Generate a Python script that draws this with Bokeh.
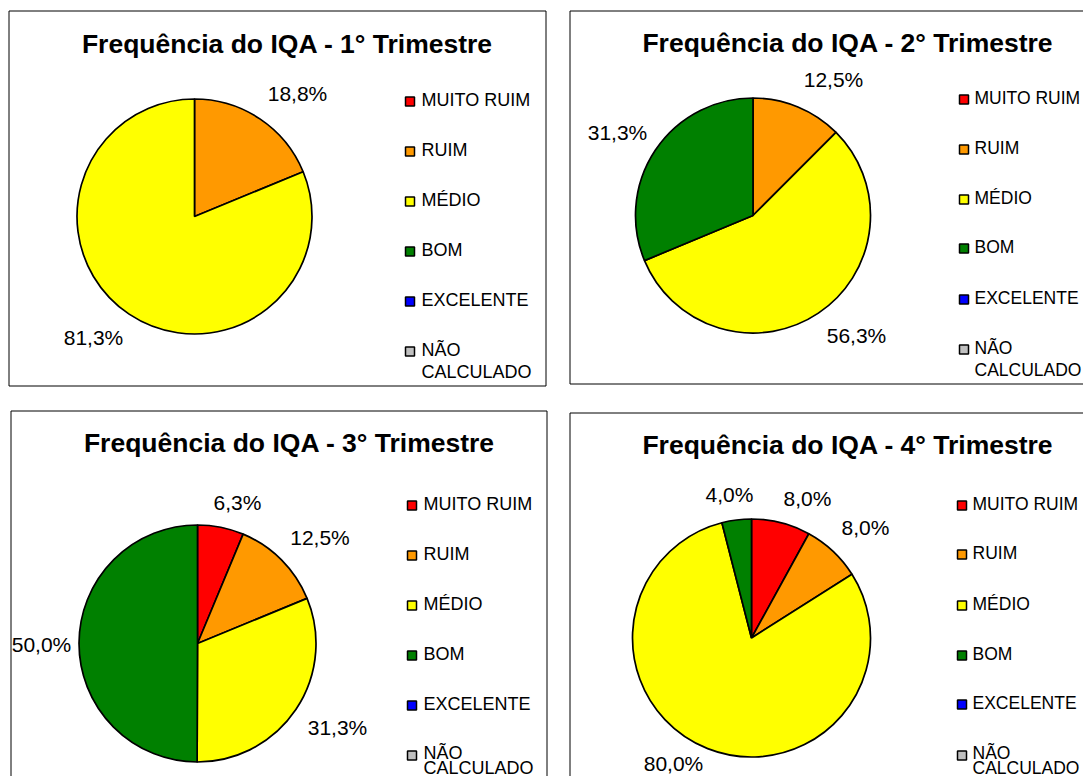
import math
from bokeh.plotting import figure
from bokeh.models import ColumnDataSource, Range1d
from bokeh.core.properties import value
from bokeh.embed import file_html
from bokeh.resources import INLINE

# ---------------- data ----------------
CATEGORIES = ["MUITO RUIM", "RUIM", "MÉDIO", "BOM", "EXCELENTE", "NÃO CALCULADO"]
COLORS = ["#FF0000", "#FF9900", "#FFFF00", "#008000", "#0000FF", "#C0C0C0"]
TITLES = [
    "Frequência do IQA - 1° Trimestre",
    "Frequência do IQA - 2° Trimestre",
    "Frequência do IQA - 3° Trimestre",
    "Frequência do IQA - 4° Trimestre",
]
Q1 = [0.0, 18.8, 81.3, 0.0, 0.0, 0.0]
Q2 = [0.0, 12.5, 56.3, 31.3, 0.0, 0.0]
Q3 = [6.3, 12.5, 31.3, 50.0, 0.0, 0.0]
Q4 = [8.0, 8.0, 80.0, 4.0, 0.0, 0.0]
SERIES = [Q1, Q2, Q3, Q4]

# ---------------- layout (picture pixel coordinates, text = vertical centre) ----------------
PANELS = [
    dict(box=(8.5, 545.5, 10.5, 385.5), center=(194, 216), r=117.5, title=(287, 43),
         mk_x=409.5, tx_x=421, rows=[101, 151, 201, 251, 301, 351], fs="18px",
         labels=[(297, 93), (93, 337)]),
    dict(box=(569.5, 1100, 10.5, 383.5), center=(752.5, 215), r=117.5, title=(847.5, 42.5),
         mk_x=963.5, tx_x=974, rows=[99, 149, 199, 248, 299, 349], fs="17.5px",
         labels=[(833, 79), (856, 335), (617, 131.5)]),
    dict(box=(10.5, 546.5, 410.5, 800), center=(197, 643), r=118.5, title=(289, 442.5),
         mk_x=411.5, tx_x=423, rows=[505, 555, 605, 655, 705, 755], fs="18px",
         labels=[(237, 501.5), (319.5, 536.5), (337, 727), (41, 644)]),
    dict(box=(569.5, 1100, 412.5, 800), center=(751, 637.5), r=119, title=(847.5, 444),
         mk_x=961.5, tx_x=972, rows=[505, 554, 605, 655, 704, 755], fs="17.5px",
         labels=[(807, 497.5), (865, 527), (673, 763), (729, 494)]),
]

W, H = 1083, 776
MAX_MID = 767
LINE_GAP = 22


def Y(py):
    return H - py


FONT = value("Liberation Sans")

p = figure(width=W, height=H, x_range=Range1d(0, W), y_range=Range1d(0, H),
           output_backend="svg", toolbar_location=None, min_border=0,
           x_axis_type=None, y_axis_type=None)
p.grid.visible = False
p.outline_line_color = None
p.background_fill_color = "white"
p.border_fill_color = "white"

# panel frames
bx = dict(left=[], right=[], top=[], bottom=[])
for pan in PANELS:
    l, r, t, b = pan["box"]
    bx["left"].append(l); bx["right"].append(r)
    bx["top"].append(Y(t)); bx["bottom"].append(Y(b))
p.quad(source=ColumnDataSource(bx), left="left", right="right", top="top", bottom="bottom",
       fill_color="white", line_color="black", line_width=1)

# pies
wd = dict(x=[], y=[], r=[], s=[], e=[], c=[])
lb = dict(x=[], y=[], t=[])
for pan, vals in zip(PANELS, SERIES):
    total = sum(vals)
    cx, cy = pan["center"]
    cum = 0.0
    k = 0
    for v, col in zip(vals, COLORS):
        if v <= 0:
            continue
        a0 = math.pi / 2 - 2 * math.pi * cum / total
        cum += v
        a1 = math.pi / 2 - 2 * math.pi * cum / total
        wd["x"].append(cx); wd["y"].append(Y(cy)); wd["r"].append(pan["r"])
        wd["s"].append(a0); wd["e"].append(a1); wd["c"].append(col)
        lx, ly = pan["labels"][k]
        lb["x"].append(lx); lb["y"].append(Y(ly))
        lb["t"].append(("%.1f%%" % v).replace(".", ","))
        k += 1
p.wedge(source=ColumnDataSource(wd), x="x", y="y", radius="r", start_angle="s",
        end_angle="e", direction="clock", fill_color="c", line_color="black",
        line_width=1.7)
p.text(source=ColumnDataSource(lb), x="x", y="y", text="t", text_font=FONT,
       text_font_size=value("21px"), text_align="center", text_baseline="middle",
       text_color="black")

# titles
td = dict(x=[pan["title"][0] for pan in PANELS], y=[Y(pan["title"][1]) for pan in PANELS],
          t=TITLES)
p.text(source=ColumnDataSource(td), x="x", y="y", text="t", text_font=FONT,
       text_font_size=value("26.5px"), text_font_style="bold", text_align="center",
       text_baseline="middle", text_color="black")

# legends
md = dict(x=[], y=[], c=[])
for pan in PANELS:
    ld = dict(x=[], y=[], t=[])
    for cat, col, ry in zip(CATEGORIES, COLORS, pan["rows"]):
        md["x"].append(pan["mk_x"]); md["y"].append(Y(ry)); md["c"].append(col)
        lines = cat.split(" ") if len(cat) > 12 else [cat]
        mids = [ry - 1.5 + LINE_GAP * i for i in range(len(lines))]
        if mids[-1] > MAX_MID:
            shift = mids[-1] - MAX_MID
            mids = [mids[0] - 1.5] + [m - shift for m in mids[1:]]
            if len(mids) > 1:
                mids[0] = min(mids[0], mids[1] - 15)
        for ln, m in zip(lines, mids):
            ld["x"].append(pan["tx_x"]); ld["y"].append(Y(m)); ld["t"].append(ln)
    p.text(source=ColumnDataSource(ld), x="x", y="y", text="t", text_font=FONT,
           text_font_size=value(pan["fs"]), text_align="left", text_baseline="middle",
           text_color="black")
p.rect(source=ColumnDataSource(md), x="x", y="y", width=9, height=9, fill_color="c",
       line_color="black", line_width=1.5)

open("out.html", "w").write(file_html(p, INLINE))
